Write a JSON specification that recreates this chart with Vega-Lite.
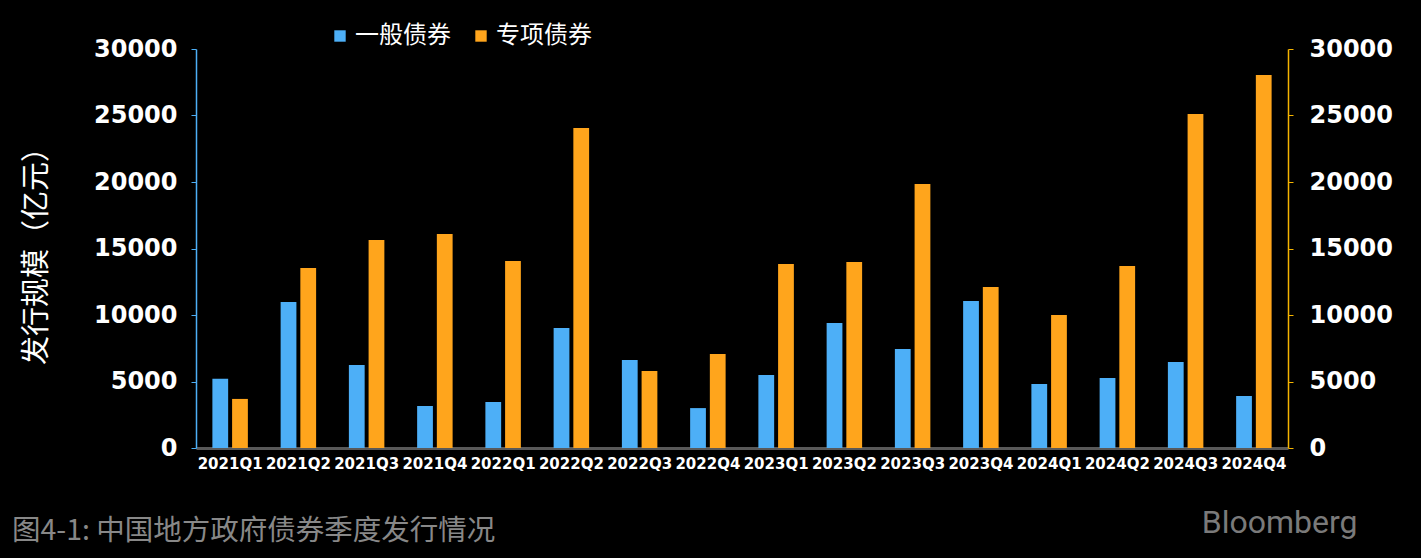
{
  "$schema": "https://vega.github.io/schema/vega-lite/v6.json",
  "width": 1092,
  "height": 399,
  "autosize": {"type": "none"},
  "padding": {"left": 196, "top": 49, "right": 133, "bottom": 110},
  "background": "#000000",
  "title": {
    "text": "图4-1: 中国地方政府债券季度发行情况",
    "orient": "bottom",
    "anchor": "start",
    "frame": "group",
    "dx": -184,
    "offset": -21,
    "font": "Noto Sans CJK SC",
    "fontSize": 28.5,
    "fontWeight": "normal",
    "color": "#888888"
  },
  "config": {
    "view": {"stroke": null},
    "axis": {"grid": false}
  },
  "data": {
    "values": [
      {"quarter": "2021Q1", "type": "一般债券", "value": 5200},
      {"quarter": "2021Q1", "type": "专项债券", "value": 3690},
      {"quarter": "2021Q2", "type": "一般债券", "value": 10980},
      {"quarter": "2021Q2", "type": "专项债券", "value": 13540},
      {"quarter": "2021Q3", "type": "一般债券", "value": 6240},
      {"quarter": "2021Q3", "type": "专项债券", "value": 15640},
      {"quarter": "2021Q4", "type": "一般债券", "value": 3160},
      {"quarter": "2021Q4", "type": "专项债券", "value": 16090},
      {"quarter": "2022Q1", "type": "一般债券", "value": 3460},
      {"quarter": "2022Q1", "type": "专项债券", "value": 14060},
      {"quarter": "2022Q2", "type": "一般债券", "value": 9020},
      {"quarter": "2022Q2", "type": "专项债券", "value": 24060},
      {"quarter": "2022Q3", "type": "一般债券", "value": 6620},
      {"quarter": "2022Q3", "type": "专项债券", "value": 5790},
      {"quarter": "2022Q4", "type": "一般债券", "value": 3000},
      {"quarter": "2022Q4", "type": "专项债券", "value": 7070},
      {"quarter": "2023Q1", "type": "一般债券", "value": 5490},
      {"quarter": "2023Q1", "type": "专项债券", "value": 13840},
      {"quarter": "2023Q2", "type": "一般债券", "value": 9400},
      {"quarter": "2023Q2", "type": "专项债券", "value": 13990},
      {"quarter": "2023Q3", "type": "一般债券", "value": 7440},
      {"quarter": "2023Q3", "type": "专项债券", "value": 19850},
      {"quarter": "2023Q4", "type": "一般债券", "value": 11050},
      {"quarter": "2023Q4", "type": "专项债券", "value": 12100},
      {"quarter": "2024Q1", "type": "一般债券", "value": 4810},
      {"quarter": "2024Q1", "type": "专项债券", "value": 10000},
      {"quarter": "2024Q2", "type": "一般债券", "value": 5260},
      {"quarter": "2024Q2", "type": "专项债券", "value": 13690},
      {"quarter": "2024Q3", "type": "一般债券", "value": 6470},
      {"quarter": "2024Q3", "type": "专项债券", "value": 25120},
      {"quarter": "2024Q4", "type": "一般债券", "value": 3910},
      {"quarter": "2024Q4", "type": "专项债券", "value": 28050}
    ]
  },
  "encoding": {
    "x": {
      "field": "quarter",
      "type": "nominal",
      "sort": null,
      "scale": {"paddingInner": 0.48, "paddingOuter": 0.24},
      "axis": {
        "title": "Bloomberg",
        "titleFont": "Roboto",
        "titleFontSize": 32,
        "titleFontWeight": "normal",
        "titleColor": "#7a7a7a",
        "titleAlign": "right",
        "titleBaseline": "alphabetic",
        "titleX": 1161,
        "titleY": 84,
        "labelAngle": 0,
        "labelFont": "DejaVu Sans",
        "labelFontSize": 15,
        "labelFontWeight": "bold",
        "labelColor": "#ffffff",
        "labelPadding": 8,
        "ticks": false,
        "domainColor": "#595959",
        "domainWidth": 3
      }
    }
  },
  "layer": [
    {
      "mark": {"type": "bar"},
      "encoding": {
        "xOffset": {
          "field": "type",
          "type": "nominal",
          "sort": ["一般债券", "专项债券"],
          "scale": {"paddingInner": 0.2}
        },
        "y": {
          "field": "value",
          "type": "quantitative",
          "scale": {"domain": [0, 30000], "nice": false},
          "axis": {
            "orient": "left",
            "values": [0, 5000, 10000, 15000, 20000, 25000, 30000],
            "title": "发行规模（亿元）",
            "titleFont": "Noto Sans CJK SC",
            "titleFontSize": 29,
            "titleFontWeight": "normal",
            "titleColor": "#ffffff",
            "titlePadding": 42,
            "labelFont": "DejaVu Sans",
            "labelFontSize": 24,
            "labelFontWeight": "bold",
            "labelColor": "#ffffff",
            "labelPadding": 14,
            "format": "d",
            "domainColor": "#4DAFF7",
            "domainWidth": 1.5,
            "tickColor": "#4DAFF7",
            "tickSize": 5
          }
        },
        "color": {
          "field": "type",
          "type": "nominal",
          "scale": {"domain": ["一般债券", "专项债券"], "range": ["#4DAFF7", "#FFA51C"]},
          "legend": {
            "title": null,
            "orient": "none",
            "legendX": 132,
            "legendY": -25,
            "direction": "horizontal",
            "symbolType": "square",
            "symbolSize": 130,
            "symbolStrokeWidth": 0,
            "labelFont": "Noto Sans CJK SC",
            "labelFontSize": 24,
            "labelColor": "#ffffff",
            "labelOffset": 3,
            "columnPadding": 18
          }
        }
      }
    },
    {
      "mark": {"type": "bar", "opacity": 0},
      "encoding": {
        "y": {
          "field": "value",
          "type": "quantitative",
          "scale": {"domain": [0, 30000], "nice": false},
          "axis": {
            "orient": "right",
            "values": [0, 5000, 10000, 15000, 20000, 25000, 30000],
            "title": null,
            "labelFont": "DejaVu Sans",
            "labelFontSize": 24,
            "labelFontWeight": "bold",
            "labelColor": "#ffffff",
            "labelPadding": 16,
            "format": "d",
            "domainColor": "#F5B400",
            "domainWidth": 1.5,
            "tickColor": "#F5B400",
            "tickSize": 5
          }
        }
      }
    }
  ],
  "resolve": {"scale": {"y": "independent"}}
}
